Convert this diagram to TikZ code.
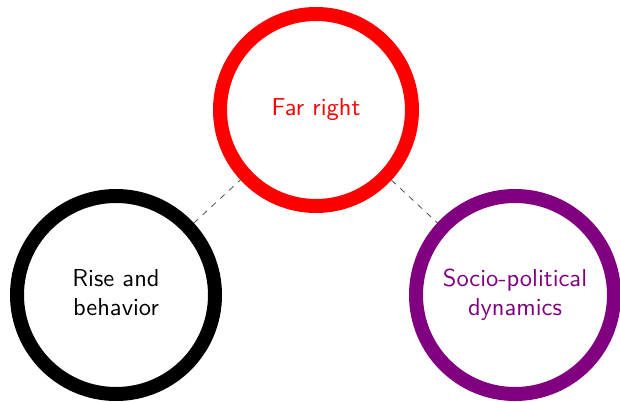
\documentclass[tikz,border=0pt]{standalone}
\usepackage{fontspec}
\definecolor{ringpurple}{RGB}{128,0,128}
\definecolor{ringred}{RGB}{255,0,0}
\definecolor{linkgray}{RGB}{80,80,80}
\newcommand{\ringtext}[1]{\scalebox{2.45}{\sffamily\fontsize{10}{11.8}\selectfont\begin{tabular}{@{}c@{}}#1\end{tabular}}}
\begin{document}
\begin{tikzpicture}[x=1pt,y=-1pt,
  ring/.style={circle,draw,line width=14pt,inner sep=0pt},
  link/.style={draw=linkgray,line width=0.8pt,dash pattern=on 6pt off 6pt}]
\useasboundingbox (0,0) rectangle (620,401);
\node[ring,draw=ringred,text=ringred,minimum size=192pt] (far) at (316,110) {\ringtext{Far right}};
\node[ring,draw=black,text=black,minimum size=198pt] (rise) at (116,295) {\ringtext{Rise and\\behavior}};
\node[ring,draw=ringpurple,text=ringpurple,minimum size=198pt] (socio) at (515,295) {\ringtext{Socio-political\\dynamics}};
\path[link] (rise) -- (far);
\path[link] (far) -- (socio);
\end{tikzpicture}
\end{document}
